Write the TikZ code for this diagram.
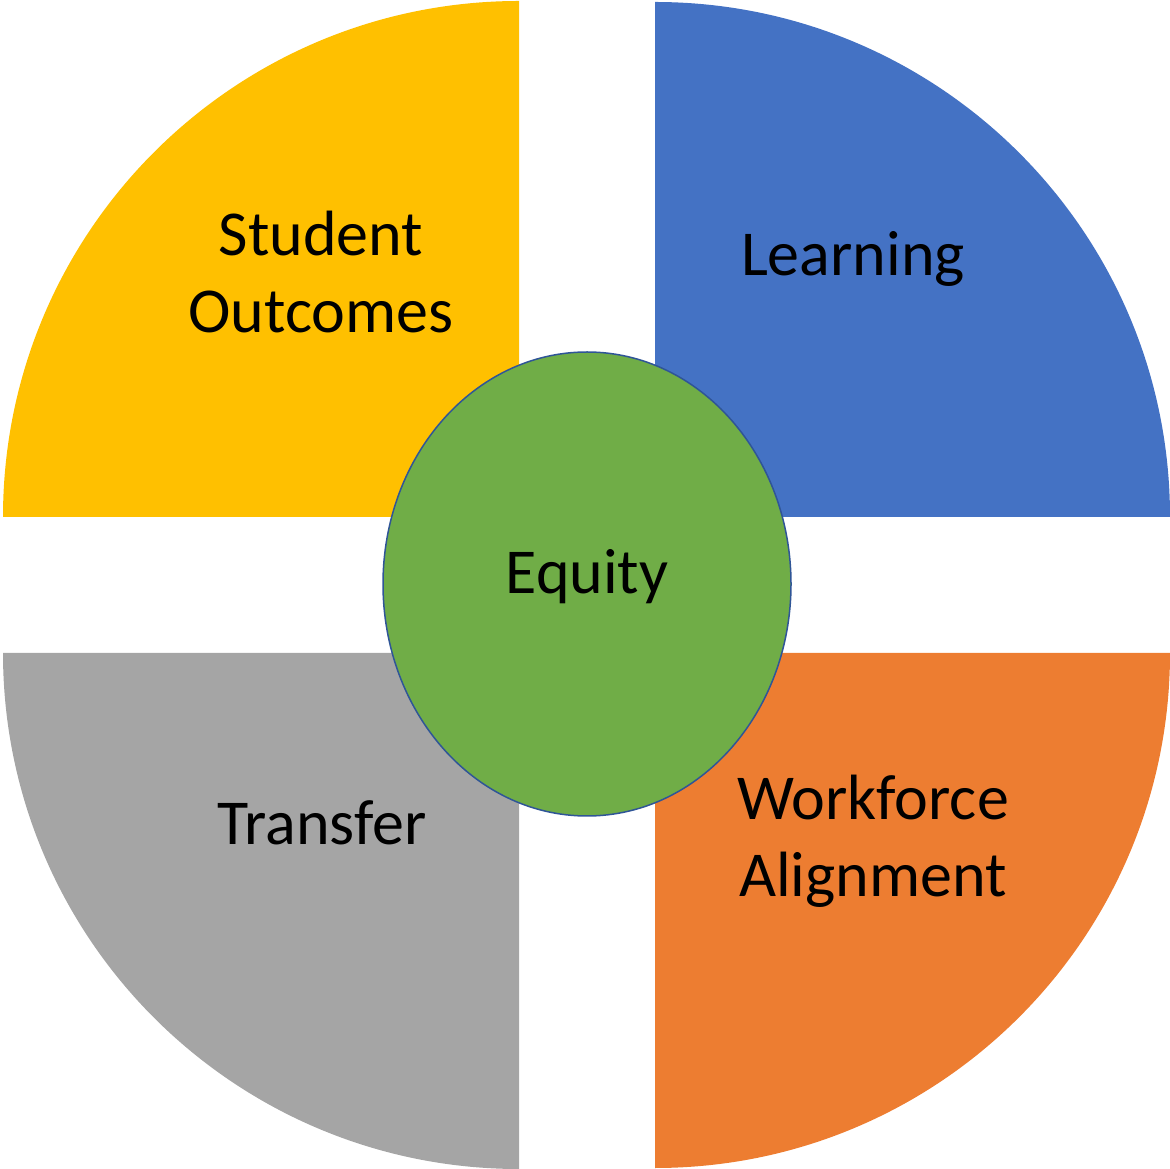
\documentclass[tikz,border=0pt]{standalone}
\usepackage{fontspec}
\setmainfont{Carlito}
\usepackage{tikz}
\definecolor{qyellow}{HTML}{FFC000}
\definecolor{qblue}{HTML}{4472C4}
\definecolor{qgray}{HTML}{A5A5A5}
\definecolor{qorange}{HTML}{ED7D31}
\definecolor{qgreen}{HTML}{70AD47}
\definecolor{qline}{HTML}{2F5597}
\tikzstyle{quarter}=[draw=none]
\tikzstyle{lbl}=[align=center, anchor=base, inner sep=0pt, font=\fontsize{64}{77}\selectfont]
\tikzstyle{hub}=[ellipse, draw=qline, line width=1.5pt, fill=qgreen, inner sep=0pt]
\usetikzlibrary{shapes.geometric,positioning}

\begin{document}
\begin{tikzpicture}[x=1pt,y=1pt]
\useasboundingbox (0,0) rectangle (1170,1168);
\coordinate (cyel) at (519,651);
\coordinate (cblu) at (655,651);
\coordinate (cgry) at (519,515);
\coordinate (cora) at (655,515);
\fill[quarter,qyellow] (cyel) -- ++(-516,0) arc[start angle=180,end angle=90,radius=516] -- cycle;
\fill[quarter,qblue] (cblu) -- ++(0,515) arc[start angle=90,end angle=0,radius=515] -- cycle;
\fill[quarter,qgray] (cgry) -- ++(-516,0) arc[start angle=180,end angle=270,radius=516] -- cycle;
\fill[quarter,qorange] (cora) -- ++(515,0) arc[start angle=0,end angle=-90,radius=515] -- cycle;
\node (equity) [hub, minimum width=408pt, minimum height=464pt,
  font=\fontsize{64}{77}\selectfont, text height=42pt, text depth=22pt] at (587,584) {Equity};
\node (student) [lbl] at (321,835) {Student\\Outcomes};
\node (learning) [lbl] at (853,892) {Learning};
\node (transfer) [lbl] at (322,323) {Transfer};
\node (workforce) [lbl] at (873,271) {Workforce\\Alignment};
\end{tikzpicture}
\end{document}
